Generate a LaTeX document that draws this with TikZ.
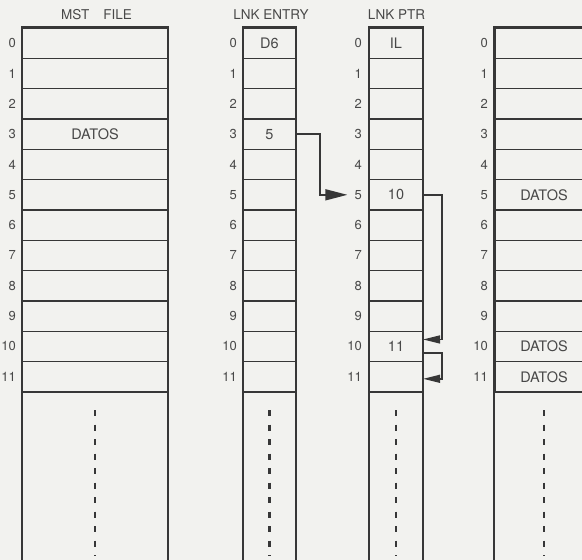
\documentclass[tikz,border=0pt]{standalone}
\usepackage{fontspec}
\setmainfont{TeX Gyre Heros}
\usetikzlibrary{arrows.meta}
\definecolor{bg}{RGB}{242,242,239}
\definecolor{ink}{RGB}{55,55,55}
\definecolor{txt}{RGB}{72,72,72}
\begin{document}
\begin{tikzpicture}[x=1pt,y=-1pt,
  cell/.style={draw=ink,line width=1.3pt,inner sep=0pt,minimum height=30.33pt},
  outer/.style={draw=ink,line width=2.2pt},
  idx/.style={text=txt,font=\fontsize{13}{14}\selectfont,inner sep=0pt,anchor=east},
  val/.style={text=txt,font=\fontsize{14.5}{15}\selectfont,inner sep=0pt},
  ttl/.style={text=txt,font=\fontsize{13.5}{14}\selectfont,inner sep=0pt},
  dotline/.style={draw=ink,line width=2.6pt,dash pattern=on 6pt off 8.5pt},
  link/.style={draw=ink,line width=1.5pt}]
\useasboundingbox (0,0) rectangle (582,560);
\fill[bg] (0,0) rectangle (582,560);
\clip (0,0) rectangle (582,560);
% cells
\foreach \c/\xl/\w in {1/22.5/145,2/243.5/52,3/369.5/53,4/495/98}{
  \foreach \r in {0,...,11}{
    \node[cell,minimum width=\w pt] (c\c r\r) at ({\xl+\w/2},{43.17+30.33*\r}) {};
  }
}
% index labels
\foreach \c/\lx in {1/16,2/237,3/362,4/488}{
  \foreach \r in {0,...,11}{
    \node[idx] (l\c r\r) at (\lx,{43.17+30.33*\r}) {\r};
  }
}
% outlines and dashed continuation
\foreach \c in {1,2,3,4}{
  \draw[outer] (c\c r11.south west |- 0,562) -- (c\c r0.north west) -- (c\c r0.north east) -- (c\c r11.south east |- 0,562);
  \draw[dotline] (c\c r11.south |- 0,410) -- (c\c r11.south |- 0,556);
}
% titles
\node[ttl] (t1) at (96.5,15) {MST\hspace{14pt}FILE};
\node[ttl] (t2) at (271,15) {LNK ENTRY};
\node[ttl] (t3) at (396.5,15) {LNK PTR};
% contents
\node[val] (v1) at (c1r3) {DATOS};
\node[val] (v2) at (c2r0) {D6};
\node[val] (v3) at (c2r3) {5};
\node[val] (v4) at (c3r0) {IL};
\node[val] (v5) at (c3r5) {10};
\node[val] (v6) at (c3r10) {11};
\node[val] (v7) at (c4r5) {DATOS};
\node[val] (v8) at (c4r10) {DATOS};
\node[val] (v9) at (c4r11) {DATOS};
% links
\draw[link,-{Triangle[length=22pt,width=11pt]}] (c2r3.east) -- ++(24,0) |- ([xshift=-7pt]l3r5.west);
\draw[link,-{Triangle[length=17pt,width=8pt]}] (c3r5.east) -- ++(19,0) |- ([yshift=7pt]c3r10.east);
\draw[link,-{Triangle[length=17pt,width=8pt]}] ([yshift=-6.5pt]c3r10.east) -- ++(19,0) |- ([yshift=-2pt]c3r11.east);
\end{tikzpicture}
\end{document}
